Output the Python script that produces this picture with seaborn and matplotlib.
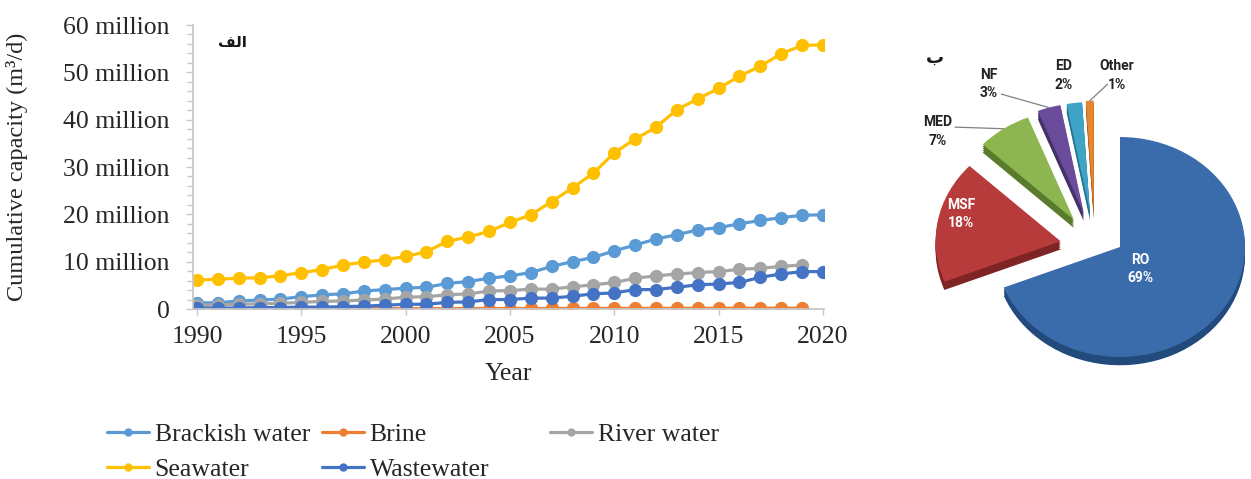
import matplotlib
matplotlib.use("Agg")
import matplotlib.pyplot as plt
from matplotlib.lines import Line2D
from matplotlib.ticker import FuncFormatter, MultipleLocator
import numpy as np
import pandas as pd
import seaborn as sns

# ---- cumulative desalination capacity by feed water (million m3/d) ----
years = list(range(1990, 2021))
brackish = [1.3, 1.3, 1.7, 1.9, 2.1, 2.6, 3.0, 3.2, 3.8, 4.1, 4.4, 4.6, 5.4, 5.8, 6.5,
            7.0, 7.7, 9.0, 10.0, 10.9, 12.3, 13.5, 14.8, 15.7, 16.7, 17.2, 18.0, 18.7,
            19.3, 19.8, 19.9]
brine = [0.05, 0.05, 0.05, 0.05, 0.06, 0.06, 0.06, 0.07, 0.07, 0.08, 0.08, 0.09, 0.09,
         0.1, 0.1, 0.1, 0.11, 0.11, 0.12, 0.12, 0.13, 0.13, 0.14, 0.14, 0.15, 0.15, 0.16,
         0.16, 0.17, 0.17]
river = [0.8, 0.9, 1.0, 1.1, 1.2, 1.4, 1.6, 1.7, 1.9, 2.1, 2.5, 2.6, 3.0, 3.2, 3.8, 3.9,
         4.2, 4.2, 4.7, 5.1, 5.6, 6.5, 7.0, 7.4, 7.7, 7.9, 8.4, 8.6, 9.0, 9.3]
seawater = [6.1, 6.3, 6.5, 6.6, 7.0, 7.7, 8.3, 9.3, 9.9, 10.4, 11.1, 12.1, 14.3, 15.2,
            16.4, 18.3, 19.9, 22.7, 25.6, 28.7, 33.0, 35.9, 38.4, 42.1, 44.4, 46.6, 49.2,
            51.3, 53.9, 55.7, 55.8]
wastewater = [0.2, 0.2, 0.2, 0.3, 0.3, 0.4, 0.4, 0.5, 0.6, 0.8, 1.0, 1.0, 1.4, 1.5, 2.0,
              2.0, 2.3, 2.3, 2.7, 3.2, 3.4, 4.1, 4.1, 4.6, 5.1, 5.3, 5.6, 6.7, 7.4, 7.9, 7.9]

series_names = ["Brackish water", "Brine", "River water", "Seawater", "Wastewater"]
series_values = [brackish, brine, river, seawater, wastewater]
series_colors = ["#5B9BD5", "#ED7D31", "#A5A5A5", "#FFC000", "#4472C4"]

# ---- share of installed capacity by technology (%) ----
tech_labels = ["RO", "MSF", "MED", "NF", "ED", "Other"]
tech_share = [69, 18, 7, 3, 2, 1]
tech_colors = ["#3A6BAA", "#B83B3B", "#8DB650", "#6B4C9A", "#3EA3C4", "#E8862F"]
tech_side = ["#224A7C", "#7E2424", "#5B7B2C", "#44306A", "#25748E", "#A65816"]

rows = []
for name, vals in zip(series_names, series_values):
    for y, v in zip(years, vals):
        rows.append({"Year": y, "Capacity": v, "Source": name})
df = pd.DataFrame(rows)

sns.set_style("white")
plt.rcParams["font.family"] = ["Liberation Serif", "DejaVu Serif"]
TXT = "#262626"

fig = plt.figure(figsize=(12.51, 4.79), dpi=100)

# ---------------- line chart ----------------
ax = fig.add_axes([193 / 1251, 1 - 309 / 479, 631 / 1251, 284 / 479])
sns.lineplot(data=df, x="Year", y="Capacity", hue="Source", hue_order=series_names,
             palette=series_colors, marker="o", markersize=9.5, markeredgewidth=0,
             linewidth=2.3, errorbar=None, legend=False, ax=ax)

ax.set_xlim(1989.81, 2020.05)
ax.set_ylim(0, 60)
ax.xaxis.set_major_locator(MultipleLocator(5))
ax.yaxis.set_major_locator(MultipleLocator(10))
ax.yaxis.set_minor_locator(MultipleLocator(2))
ax.yaxis.set_major_formatter(FuncFormatter(lambda v, p: "0" if v == 0 else f"{v:.0f} million"))
for s in ["top", "right"]:
    ax.spines[s].set_visible(False)
for s in ["left", "bottom"]:
    ax.spines[s].set_color("#C8C8C8")
    ax.spines[s].set_linewidth(1.3)
ax.tick_params(axis="y", which="major", length=5, width=1, color="#C8C8C8",
               labelsize=18.5, labelcolor=TXT, pad=12, direction="out", left=True)
ax.tick_params(axis="y", which="minor", length=4, width=1, color="#C8C8C8", left=True)
ax.tick_params(axis="x", which="major", length=4, width=1, color="#C8C8C8",
               labelsize=18.5, labelcolor=TXT, pad=8, direction="out", bottom=True)
ax.set_xlabel("Year", fontsize=18.5, color=TXT, labelpad=11)
ax.set_ylabel("Cumulative capacity (m³/d)", fontsize=17.5, color=TXT)
ax.yaxis.set_label_coords(-0.262, 0.5)

ax.text(0.04, 0.94, "\uFED2\uFEDF\uFE8D", transform=ax.transAxes, fontsize=11,
        fontweight="bold", family=["DejaVu Sans"], color="#1a1a1a", ha="left", va="center")

# legend, laid out in three columns
def handle(color):
    return Line2D([], [], color=color, lw=2.3, marker="o", markersize=6, markeredgewidth=0)

legend_cols = [
    ([0, 3], 107),
    ([1, 4], 322),
    ([2], 550),
]
for idx, xpix in legend_cols:
    fig.legend([handle(series_colors[i]) for i in idx], [series_names[i] for i in idx],
               loc="upper left", bbox_to_anchor=(xpix / 1251, 1 - 423 / 479),
               frameon=False, fontsize=18.5, handlelength=1.65, handletextpad=0.2,
               borderpad=0, borderaxespad=0, labelspacing=0.48, labelcolor=TXT)

# ---------------- exploded 3-D style pie ----------------
pax = fig.add_axes([905 / 1251, 1 - 390 / 479, 346 / 1251, 350 / 479])
explode = [0, 0.28, 0.30, 0.32, 0.32, 0.33]
group_shift = (-0.2, 0.0)


def draw_pie(colors, dy, z):
    wedges, _ = pax.pie(tech_share, colors=colors, startangle=90, counterclock=False,
                        explode=explode, radius=1.0, center=(0, dy),
                        wedgeprops=dict(linewidth=0, zorder=z))
    for w in wedges[1:]:
        cx, cy = w.center
        w.set_center((cx + group_shift[0], cy + group_shift[1]))
    return wedges


for k, dy in enumerate([-0.075, -0.055, -0.035, -0.018]):
    draw_pie(tech_side, dy, 1 + k * 0.01)
top = draw_pie(tech_colors, 0.0, 2)

pax.set_aspect("auto")
pax.set_xlim(-1.72, 1.048)
pax.set_ylim(-1.3, 1.882)
pax.axis("off")

pie_font = dict(family=["Roboto", "DejaVu Sans"], fontweight="bold", fontsize=10)
inside = {"RO": (0.16, -0.2), "MSF": (-1.27, 0.30)}
outside = {"MED": (-1.456, 1.05), "NF": (-1.048, 1.48), "ED": (-0.448, 1.56),
           "Other": (-0.024, 1.56)}
for lab, share in zip(tech_labels, tech_share):
    txt = f"{lab}\n{share}%"
    if lab in inside:
        pax.text(*inside[lab], txt, color="white", ha="center", va="center",
                 linespacing=1.4, zorder=5, **pie_font)
    else:
        pax.text(*outside[lab], txt, color="#222222", ha="center", va="center",
                 linespacing=1.4, zorder=5, **pie_font)

# leader lines from labels to their slices
leaders = {"MED": (-1.32, 1.09), "NF": (-0.95, 1.39), "Other": (-0.10, 1.48)}
for lab, start in leaders.items():
    w = top[tech_labels.index(lab)]
    mid = np.deg2rad(0.5 * (w.theta1 + w.theta2))
    cx, cy = w.center
    end = (cx + w.r * np.cos(mid), cy + w.r * np.sin(mid))
    pax.annotate("", xy=end, xytext=start,
                 arrowprops=dict(arrowstyle="-", color="#808080", lw=0.9,
                                 shrinkA=0, shrinkB=0), zorder=4)

pax.text(-1.48, 1.72, "ب", family=["DejaVu Sans"], fontweight="bold", fontsize=13,
         color="#1a1a1a", ha="center", va="center")

fig.savefig("out.png", dpi=100)
